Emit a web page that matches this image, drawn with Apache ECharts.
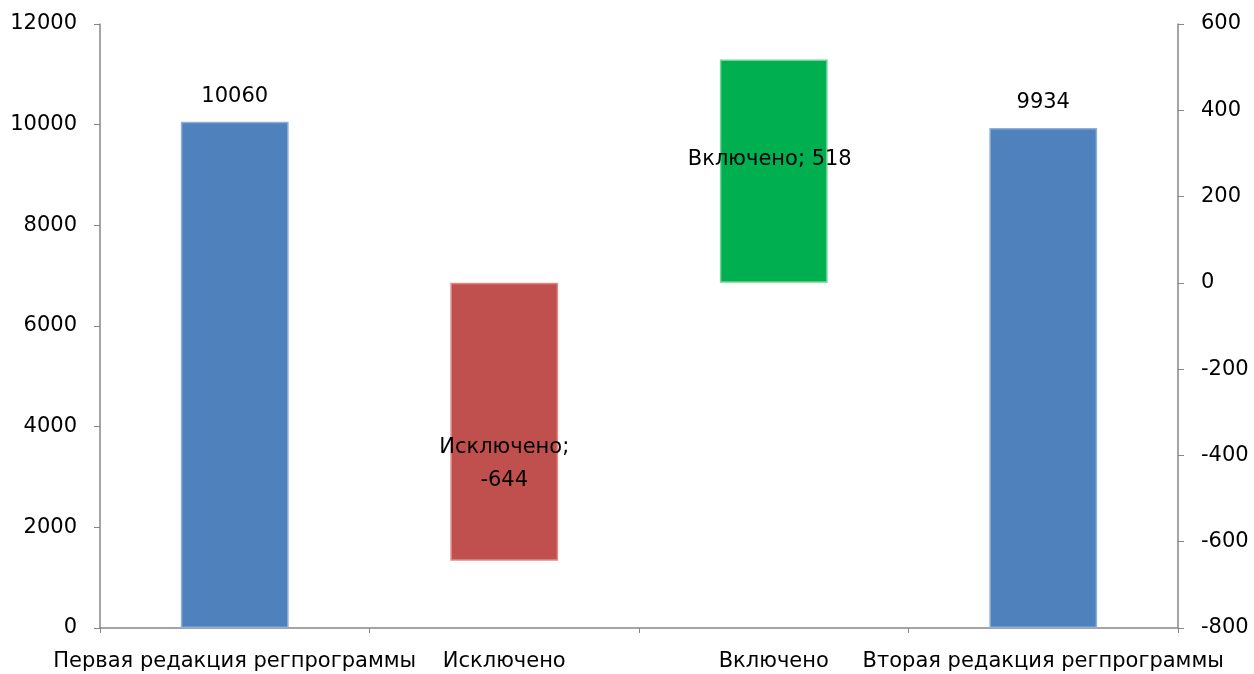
<!DOCTYPE html>
<html><head><meta charset="utf-8">
<script src="https://cdn.jsdelivr.net/npm/echarts@6/dist/echarts.min.js"></script>
<style>html,body{margin:0;padding:0;background:#fff}#c{width:1254px;height:674px}</style>
</head><body><div id="c"></div>
<script>
const categories = ['Первая редакция регпрограммы', 'Исключено', 'Включено', 'Вторая редакция регпрограммы'];
const totalValues = [10060, null, null, 9934];       // left axis
const changeValues = [null, -644, 518, null];         // right axis
const changeLabels = ['', 'Исключено;\n-644', 'Включено; 518', ''];
const leftTicks = {min: 0, max: 12000, interval: 2000};
const rightTicks = {min: -800, max: 600, interval: 200};

const FONT = 'DejaVu Sans';
const chart = echarts.init(document.getElementById('c'));
const changeStyles = [null,
  {color: '#C0504D', borderColor: '#E08A88', offset: [0, 42]},
  {color: '#00B050', borderColor: '#6FD496', offset: [-4, -12]},
  null];

chart.setOption({
  animation: false,
  textStyle: {fontFamily: FONT},
  grid: {left: 100, right: 76, top: 24, bottom: 46},
  xAxis: {
    type: 'category', data: categories,
    axisLine: {show: true, lineStyle: {color: '#868686', width: 1.5}},
    axisTick: {show: true, alignWithLabel: false, length: 5, lineStyle: {color: '#868686'}},
    axisLabel: {color: '#000', fontSize: 21, fontFamily: FONT, margin: 23, interval: 0}
  },
  yAxis: [
    {type: 'value', min: leftTicks.min, max: leftTicks.max, interval: leftTicks.interval,
     splitLine: {show: false},
     axisLine: {show: true, lineStyle: {color: '#868686', width: 1.5}},
     axisTick: {show: true, length: 6, lineStyle: {color: '#868686'}},
     axisLabel: {color: '#000', fontSize: 21, fontFamily: FONT, margin: 23, formatter: v => String(v)}},
    {type: 'value', min: rightTicks.min, max: rightTicks.max, interval: rightTicks.interval,
     splitLine: {show: false},
     axisLine: {show: true, lineStyle: {color: '#868686', width: 1.5}},
     axisTick: {show: true, length: 6, lineStyle: {color: '#868686'}},
     axisLabel: {color: '#000', fontSize: 21, fontFamily: FONT, margin: 23, formatter: v => String(v)}}
  ],
  series: [
    {type: 'bar', yAxisIndex: 0, barWidth: '40%', barGap: '-100%',
     data: totalValues.map(v => v == null ? '-' : v),
     itemStyle: {color: '#4F81BD', borderColor: '#8EB0D8', borderWidth: 1.5},
     label: {show: true, position: 'top', distance: 15, color: '#000', fontSize: 21, fontFamily: FONT}},
    {type: 'bar', yAxisIndex: 1, barWidth: '40%', barGap: '-100%',
     data: changeValues.map((v, i) => v == null ? '-' : {
       value: v,
       itemStyle: {color: changeStyles[i].color, borderColor: changeStyles[i].borderColor, borderWidth: 1.5},
       label: {show: true, position: 'inside', offset: changeStyles[i].offset,
               formatter: changeLabels[i], color: '#000', fontSize: 21, fontFamily: FONT, lineHeight: 33}
     })}
  ]
});
</script></body></html>
